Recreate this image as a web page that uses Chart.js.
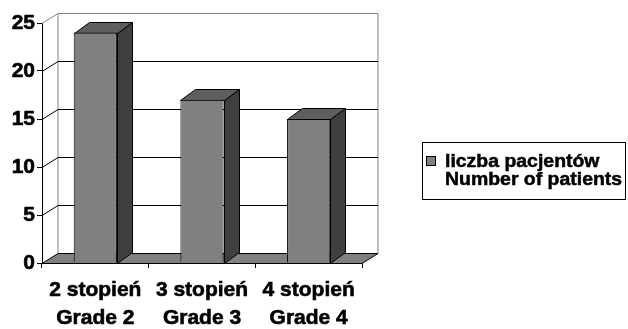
<!DOCTYPE html>
<html>
<head>
<meta charset="utf-8">
<style>
  html, body { margin: 0; padding: 0; background: #ffffff; }
  canvas { display: block; }
</style>
<script src="https://cdn.jsdelivr.net/npm/chart.js@4"></script>
</head>
<body>
<canvas id="chart" width="628" height="329"></canvas>
<script>
// Patients by tumour grade
const categories = [
  ['2 stopień', 'Grade 2'],
  ['3 stopień', 'Grade 3'],
  ['4 stopień', 'Grade 4']
];
const patientCounts = [24, 17, 15];
const seriesLabel = ['liczba pacjentów', 'Number of patients'];
const yTicks = [0, 5, 10, 15, 20, 25];

const FONT = 'Arial, "Liberation Sans", sans-serif';
const WALL = { dx: 16, dy: -10 };   // depth of the 3D box
const BAR = { dx: 15, dy: -11 };    // depth of each column
const COLORS = {
  front: '#808080',
  top: '#5e5e5e',
  side: '#3f3f3f',
  floor: '#808080',
  wall: '#808080',
  edge: '#000000'
};

function line(ctx, x1, y1, x2, y2, color) {
  ctx.beginPath();
  ctx.moveTo(x1, y1);
  ctx.lineTo(x2, y2);
  ctx.strokeStyle = color;
  ctx.lineWidth = 1;
  ctx.stroke();
}

function poly(ctx, pts, fill, stroke) {
  ctx.beginPath();
  ctx.moveTo(pts[0][0], pts[0][1]);
  for (let i = 1; i < pts.length; i++) ctx.lineTo(pts[i][0], pts[i][1]);
  ctx.closePath();
  ctx.fillStyle = fill;
  ctx.fill();
  ctx.strokeStyle = stroke;
  ctx.lineWidth = 1;
  ctx.stroke();
}

// Back wall, side-wall lines, floor, and the depth faces of the columns
const box3d = {
  id: 'box3d',
  beforeDatasetsDraw(chart) {
    const ctx = chart.ctx;
    const x = chart.scales.x, y = chart.scales.y;
    const L = x.left, R = x.right;
    const y0 = Math.round(y.getPixelForValue(0)) + 0.5;
    const yTop = Math.round(y.getPixelForValue(y.max)) + 0.5;
    ctx.save();

    // back wall outline
    const bl = L + WALL.dx, br = R + WALL.dx;
    line(ctx, bl, yTop + WALL.dy, br, yTop + WALL.dy, COLORS.wall);
    line(ctx, bl, yTop + WALL.dy, bl, y0 + WALL.dy, COLORS.wall);
    line(ctx, br, yTop + WALL.dy, br, y0 + WALL.dy, COLORS.wall);
    line(ctx, L, yTop, bl, yTop + WALL.dy, COLORS.wall);

    // gridlines on the back wall and the left side wall
    yTicks.forEach(v => {
      if (v === 0 || v === y.max) return;
      const py = Math.round(y.getPixelForValue(v)) + 0.5;
      line(ctx, bl, py + WALL.dy, br, py + WALL.dy, COLORS.edge);
      line(ctx, L, py, bl, py + WALL.dy, COLORS.edge);
    });

    // floor
    poly(ctx, [[L, y0], [bl, y0 + WALL.dy], [br, y0 + WALL.dy], [R, y0]], COLORS.floor, COLORS.edge);

    // column sides and tops
    const meta = chart.getDatasetMeta(0);
    meta.data.forEach(bar => {
      const half = bar.width / 2;
      const xl = Math.round(bar.x - half) + 0.5;
      const xr = Math.round(bar.x + half) + 0.5;
      const yt = Math.round(bar.y) + 0.5;
      const yb = Math.round(bar.base) + 0.5;
      poly(ctx, [[xr, yt], [xr + BAR.dx, yt + BAR.dy], [xr + BAR.dx, yb + BAR.dy], [xr, yb]], COLORS.side, COLORS.edge);
      poly(ctx, [[xl, yt], [xl + BAR.dx, yt + BAR.dy], [xr + BAR.dx, yt + BAR.dy], [xr, yt]], COLORS.top, COLORS.edge);
    });
    ctx.restore();
  }
};

// Boxed legend on the right with a two-line entry
const boxLegend = {
  id: 'boxLegend',
  afterDraw(chart) {
    const ctx = chart.ctx;
    const ds = chart.data.datasets[0];
    ctx.save();
    ctx.strokeStyle = '#000000';
    ctx.lineWidth = 1;
    ctx.strokeRect(422.5, 142.5, 203, 57);
    ctx.fillStyle = ds.backgroundColor;
    ctx.fillRect(426.5, 156.5, 9, 9);
    ctx.strokeRect(426.5, 156.5, 9, 9);
    ctx.fillStyle = '#000000';
    ctx.strokeStyle = '#000000';
    ctx.lineWidth = 0.5;
    ctx.font = 'bold 18px ' + FONT;
    ctx.textBaseline = 'alphabetic';
    ctx.textAlign = 'left';
    const lines = Array.isArray(ds.label) ? ds.label : [ds.label];
    lines.forEach((t, i) => {
      ctx.save();
      ctx.translate(445, 167 + i * 18);
      ctx.scale(1.08, 1);
      ctx.fillText(t, 0, 0);
      ctx.strokeText(t, 0, 0);
      ctx.restore();
    });
    ctx.restore();
  }
};

new Chart(document.getElementById('chart'), {
  type: 'bar',
  data: {
    labels: categories,
    datasets: [{
      label: seriesLabel,
      data: patientCounts,
      backgroundColor: COLORS.front,
      borderColor: COLORS.edge,
      borderWidth: 1,
      categoryPercentage: 1,
      barPercentage: 0.405
    }]
  },
  options: {
    responsive: false,
    animation: false,
    events: [],
    layout: { padding: { top: 23, right: 266, left: 0, bottom: 0 } },
    plugins: {
      legend: { display: false },
      tooltip: { enabled: false }
    },
    scales: {
      y: {
        min: 0,
        max: 25,
        afterFit(scale) { scale.width = 42; },
        afterBuildTicks(scale) { scale.ticks = yTicks.map(v => ({ value: v })); },
        ticks: {
          color: '#000000',
          font: { family: FONT, size: 21, weight: 'bold' },
          textStrokeColor: '#000000',
          textStrokeWidth: 0.6,
          padding: 2
        },
        grid: { drawOnChartArea: false, drawTicks: true, tickLength: 5, color: '#000000' },
        border: { display: true, color: '#000000' }
      },
      x: {
        afterFit(scale) { scale.height = 66; },
        ticks: {
          color: '#000000',
          font: { family: FONT, size: 21, weight: 'bold', lineHeight: 1.34 },
          textStrokeColor: '#000000',
          textStrokeWidth: 0.6,
          padding: 8,
          maxRotation: 0,
          autoSkip: false
        },
        grid: { offset: true, drawOnChartArea: false, drawTicks: true, tickLength: 5, color: '#000000' },
        border: { display: true, color: '#000000' }
      }
    }
  },
  plugins: [box3d, boxLegend]
});
</script>
</body>
</html>
